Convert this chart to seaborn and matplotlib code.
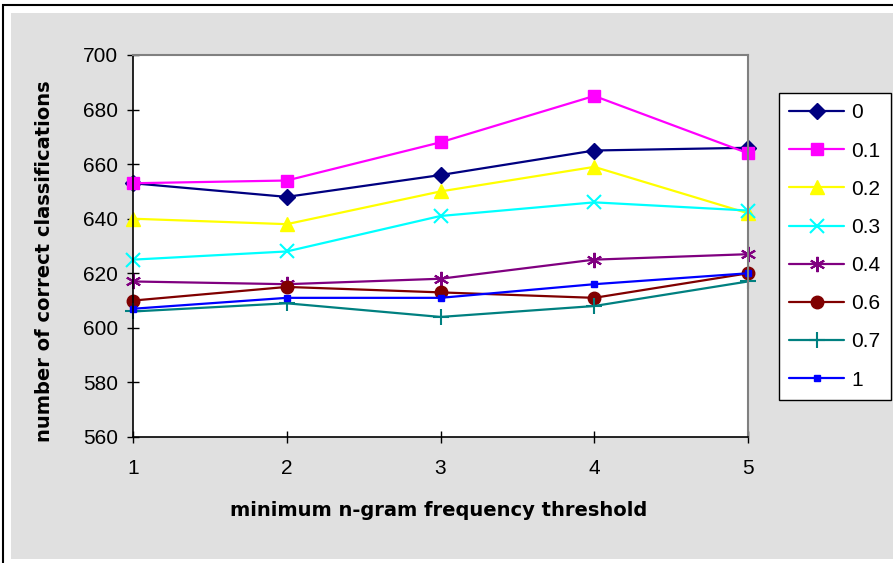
import matplotlib
matplotlib.use("Agg")
import matplotlib.pyplot as plt
from matplotlib.patches import Rectangle
from matplotlib.lines import Line2D
import seaborn as sns
import pandas as pd

# ---- data ----
thresholds = [1, 2, 3, 4, 5]
series_labels = ["0", "0.1", "0.2", "0.3", "0.4", "0.6", "0.7", "1"]
vals_0 = [653, 648, 656, 665, 666]
vals_01 = [653, 654, 668, 685, 664]
vals_02 = [640, 638, 650, 659, 642]
vals_03 = [625, 628, 641, 646, 643]
vals_04 = [617, 616, 618, 625, 627]
vals_06 = [610, 615, 613, 611, 620]
vals_07 = [606, 609, 604, 608, 617]
vals_1 = [607, 611, 611, 616, 620]
yticks = [560, 580, 600, 620, 640, 660, 680, 700]

all_vals = [vals_0, vals_01, vals_02, vals_03, vals_04, vals_06, vals_07, vals_1]
rows = []
for lab, vs in zip(series_labels, all_vals):
    for t, v in zip(thresholds, vs):
        rows.append({"threshold": t, "value": v, "series": lab})
df = pd.DataFrame(rows)

colors = ["#000080", "#FF00FF", "#FFFF00", "#00FFFF", "#800080", "#800000", "#008080", "#0000FF"]
markers = ["D", "s", "^", "x", (6, 2, 0), "o", "+", "s"]
msizes = [8, 9, 10, 10, 11, 9, 11, 5]
mews = [1, 1, 1, 1.5, 1.5, 1, 1.5, 1]

sns.set_style("white")
plt.rcParams["font.family"] = ["Liberation Sans", "DejaVu Sans"]
plt.rcParams["text.color"] = "black"
plt.rcParams["axes.labelcolor"] = "black"
plt.rcParams["xtick.color"] = "black"
plt.rcParams["ytick.color"] = "black"

fig = plt.figure(figsize=(8.93, 5.63), dpi=100)
fig.patch.set_facecolor("white")
W, H = 893, 563
fig.patches.append(Rectangle((3 / W, 1 - 590 / H), 1.1, 585 / H, transform=fig.transFigure,
                             facecolor="white", edgecolor="black", linewidth=1.5, zorder=-3))
fig.patches.append(Rectangle((11 / W, 1 - 559 / H), 1.1, 546 / H, transform=fig.transFigure,
                             facecolor="#E0E0E0", edgecolor="none", zorder=-2))

ax = fig.add_axes([133 / W, 1 - 437 / H, (748 - 133) / W, (437 - 55) / H])
ax.set_facecolor("white")

handles = []
for lab, col, mk, ms, mw in zip(series_labels, colors, markers, msizes, mews):
    sub = df[df["series"] == lab]
    sns.lineplot(data=sub, x="threshold", y="value", ax=ax, color=col, marker=mk,
                 markersize=ms, markeredgecolor=col, markerfacecolor=col,
                 markeredgewidth=mw, linewidth=1.6, legend=False, clip_on=False)
    handles.append(Line2D([0], [0], color=col, marker=mk, markersize=ms,
                          markeredgecolor=col, markerfacecolor=col, markeredgewidth=mw,
                          linewidth=1.6, label=lab))

ax.set_xlim(1, 5)
ax.set_ylim(560, 700)
ax.set_xticks(thresholds)
ax.set_xticklabels([str(t) for t in thresholds])
ax.set_yticks(yticks)
ax.tick_params(axis="both", direction="inout", length=8, width=1, colors="black",
               labelsize=15)
ax.tick_params(axis="y", pad=7)
ax.tick_params(axis="x", pad=11.5)
ax.xaxis.set_ticks_position("bottom")
ax.yaxis.set_ticks_position("left")

for s in ["left", "bottom"]:
    ax.spines[s].set_color("black")
    ax.spines[s].set_linewidth(1.2)
for s in ["top", "right"]:
    ax.spines[s].set_color("#808080")
    ax.spines[s].set_linewidth(1.5)

ax.set_xlabel("minimum n-gram frequency threshold", fontsize=14, fontweight="bold",
              family="DejaVu Sans")
ax.set_ylabel("number of correct classifications", fontsize=14, fontweight="bold",
              family="DejaVu Sans")
ax.xaxis.set_label_coords((439 - 133) / 615, -(510 - 437) / 382)
ax.yaxis.set_label_coords(-(133 - 45) / 615, (437 - 261) / 382)
ax.xaxis.label.set_va("center")
ax.yaxis.label.set_va("center")

leg = fig.legend(handles=handles, loc="upper left",
                 bbox_to_anchor=(779 / W, 1 - 93 / H), bbox_transform=fig.transFigure,
                 frameon=True, fancybox=False, shadow=False, fontsize=15, framealpha=1,
                 handlelength=2.64, handletextpad=0.34, labelspacing=0.92,
                 borderpad=0.5, borderaxespad=0)
leg.get_frame().set_edgecolor("black")
leg.get_frame().set_linewidth(1)
leg.get_frame().set_facecolor("white")

fig.savefig("out.png", dpi=100, facecolor=fig.get_facecolor())
